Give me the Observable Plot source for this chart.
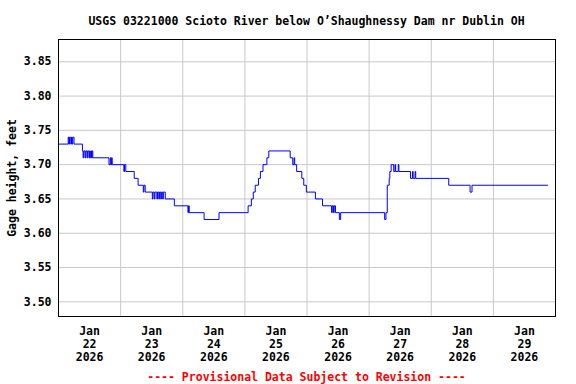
<!DOCTYPE html>
<html>
<head>
<meta charset="utf-8">
<script src="https://cdn.jsdelivr.net/npm/d3@7"></script>
<script src="https://cdn.jsdelivr.net/npm/@observablehq/plot@0.6"></script>
<style>
  html, body { margin: 0; padding: 0; background: #fff; overflow: hidden; }
  #wrap { width: 576px; height: 384px; font-family: "DejaVu Sans Mono", monospace; font-weight: bold; font-size: 11.5px; }
  #title { height: 30px; box-sizing: border-box; padding: 13px 21px 0 58px; line-height: 16px; text-align: center; color: #000; white-space: nowrap; }
  #caption { height: 18px; box-sizing: border-box; padding: 3px 21px 0 58px; line-height: 16px; text-align: center; color: #ff0000; white-space: nowrap; }
  svg { display: block; }
</style>
</head>
<body>
<div id="wrap">
  <div id="title"></div>
  <div id="chart"></div>
  <div id="caption"></div>
</div>
<script>
const titleText = "USGS 03221000 Scioto River below O\u2019Shaughnessy Dam nr Dublin OH";
const captionText = "---- Provisional Data Subject to Revision ----";
const yLabel = "Gage height, feet";

// Start of the record: 2026-01-22 00:00; hours since start, step values (feet)
const startDate = "2026-01-22T00:00:00Z";
const endDate = "2026-01-30T00:00:00Z";
const hours = [
  0, 3.75, 4, 4.25, 4.75, 5, 5.25, 5.5, 6,
  9.25, 9.5, 9.75, 10.25, 10.5, 11, 11.25, 11.75, 12, 12.25, 12.5, 12.75, 13, 13.25,
  19.5, 20, 20.25, 20.5, 20.75,
  25.25, 25.5, 26,
  29.25, 30.75, 32.75, 33, 33.5,
  36.25, 36.5, 37, 37.25, 38, 38.25, 38.75, 39, 39.5, 39.75, 40.25, 40.5, 41.25,
  44.75, 50, 50.25, 50.5, 56.25, 62,
  73.25, 74.5, 75.25, 76, 77.25, 78, 79, 80.5, 81.25,
  89.5, 90.5, 91, 91.25, 92, 94, 94.75, 95.75, 99.25, 102,
  105.5, 105.75, 106.25, 106.5, 107, 108.5, 109,
  126, 126.5, 127, 127.75, 128, 128.5,
  129.5, 130, 130.25, 131.25, 131.5,
  136, 136.75, 137, 137.75, 138,
  150.75, 159, 159.75, 189
];
const gage = [
  3.73, 3.74, 3.73, 3.74, 3.73, 3.74, 3.73, 3.74, 3.73,
  3.72, 3.71, 3.72, 3.71, 3.72, 3.71, 3.72, 3.71, 3.72, 3.71, 3.72, 3.71, 3.72, 3.71,
  3.70, 3.71, 3.70, 3.71, 3.70,
  3.69, 3.70, 3.69,
  3.68, 3.67, 3.66, 3.67, 3.66,
  3.65, 3.66, 3.65, 3.66, 3.65, 3.66, 3.65, 3.66, 3.65, 3.66, 3.65, 3.66, 3.65,
  3.64, 3.63, 3.64, 3.63, 3.62, 3.63,
  3.64, 3.65, 3.66, 3.67, 3.68, 3.69, 3.70, 3.71, 3.72,
  3.71, 3.70, 3.71, 3.70, 3.69, 3.68, 3.67, 3.66, 3.65, 3.64,
  3.63, 3.64, 3.63, 3.64, 3.63, 3.62, 3.63,
  3.62, 3.63, 3.67, 3.68, 3.69, 3.70,
  3.69, 3.70, 3.69, 3.70, 3.69,
  3.68, 3.69, 3.68, 3.69, 3.68,
  3.67, 3.66, 3.67, 3.67
];
const yTicks = [3.50, 3.55, 3.60, 3.65, 3.70, 3.75, 3.80, 3.85];
const tickDays = [22, 23, 24, 25, 26, 27, 28, 29];
const gridDays = [23, 24, 25, 26, 27, 28, 29];
const yDomain = [3.4786, 3.8825];

const t0 = new Date(startDate).getTime();
const data = hours.map((h, i) => ({ t: new Date(t0 + h * 3600e3), v: gage[i] }));
const noons = tickDays.map(d => new Date(Date.UTC(2026, 0, d, 12)));
const midnights = gridDays.map(d => new Date(Date.UTC(2026, 0, d)));

document.getElementById("title").textContent = titleText;
document.getElementById("caption").textContent = captionText;

const chart = Plot.plot({
  width: 576,
  height: 336,
  marginTop: 9,
  marginBottom: 50,
  marginLeft: 58,
  marginRight: 21,
  style: { fontFamily: "'DejaVu Sans Mono', monospace", fontSize: "11.5px", fontWeight: "bold", background: "white", color: "black" },
  x: { type: "utc", domain: [new Date(startDate), new Date(endDate)] },
  y: { domain: yDomain },
  marks: [
    Plot.gridY(yTicks, { stroke: "#c8c8c8", strokeOpacity: 1 }),
    Plot.gridX(midnights, { stroke: "#c8c8c8", strokeOpacity: 1 }),
    Plot.line(data, { x: "t", y: "v", curve: "step-after", stroke: "#0000ff", strokeWidth: 1 }),
    Plot.frame({ stroke: "black", strokeWidth: 1 }),
    Plot.axisY(yTicks, { tickSize: 0, tickPadding: 7, tickFormat: d => d.toFixed(2), label: yLabel, labelArrow: "none", labelAnchor: "center", labelOffset: 51 }),
    Plot.axisX(noons, { tickSize: 0, tickPadding: 9, lineHeight: 1.13, tickFormat: d => `Jan\n${d.getUTCDate()}\n2026`, label: null })
  ]
});
document.getElementById("chart").appendChild(chart);
</script>
</body>
</html>
